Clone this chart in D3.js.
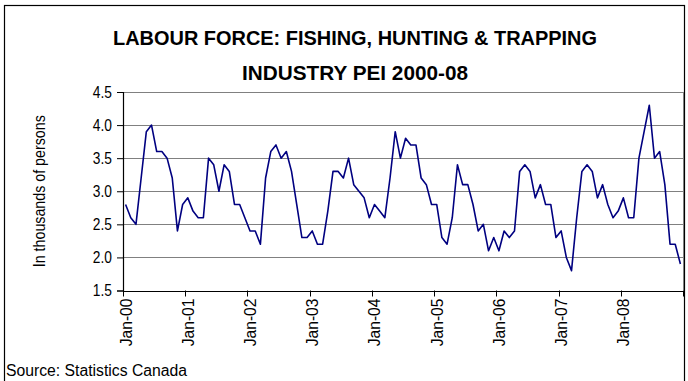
<!DOCTYPE html>
<html>
<head>
<meta charset="utf-8">
<script src="https://cdn.jsdelivr.net/npm/d3@7"></script>
<style>
  html, body { margin: 0; padding: 0; background: #fff; }
  svg { display: block; }
  text { font-family: "Liberation Sans", Arial, sans-serif; fill: #000; }
</style>
</head>
<body>
<svg id="chart" width="688" height="381"></svg>
<script>
// ---- data ----
const years = ["00", "01", "02", "03", "04", "05", "06", "07", "08"];
const months = ["Jan","Feb","Mar","Apr","May","Jun","Jul","Aug","Sep","Oct","Nov","Dec"];
const values2000 = [2.8, 2.6, 2.5, 3.2, 3.9, 4.0, 3.6, 3.6, 3.5, 3.2, 2.4, 2.8];
const values2001 = [2.9, 2.7, 2.6, 2.6, 3.5, 3.4, 3.0, 3.4, 3.3, 2.8, 2.8, 2.6];
const values2002 = [2.4, 2.4, 2.2, 3.2, 3.6, 3.7, 3.5, 3.6, 3.3, 2.8, 2.3, 2.3];
const values2003 = [2.4, 2.2, 2.2, 2.7, 3.3, 3.3, 3.2, 3.5, 3.1, 3.0, 2.9, 2.6];
const values2004 = [2.8, 2.7, 2.6, 3.2, 3.9, 3.5, 3.8, 3.7, 3.7, 3.2, 3.1, 2.8];
const values2005 = [2.8, 2.3, 2.2, 2.6, 3.4, 3.1, 3.1, 2.8, 2.4, 2.5, 2.1, 2.3];
const values2006 = [2.1, 2.4, 2.3, 2.4, 3.3, 3.4, 3.3, 2.9, 3.1, 2.8, 2.8, 2.3];
const values2007 = [2.4, 2.0, 1.8, 2.6, 3.3, 3.4, 3.3, 2.9, 3.1, 2.8, 2.6, 2.7];
const values2008 = [2.9, 2.6, 2.6, 3.5, 3.9, 4.3, 3.5, 3.6, 3.1, 2.2, 2.2, 1.9];
const yTicks = [1.5, 2.0, 2.5, 3.0, 3.5, 4.0, 4.5];
const titleLines = ["LABOUR FORCE: FISHING, HUNTING & TRAPPING", "INDUSTRY PEI 2000-08"];
const yAxisTitle = "In thousands of persons";
const sourceText = "Source: Statistics Canada";

const allValues = [].concat(values2000, values2001, values2002, values2003, values2004,
                            values2005, values2006, values2007, values2008);
const categories = [];
years.forEach(y => months.forEach(m => categories.push(m + "-" + y)));
const data = categories.map((c, i) => ({ cat: c, value: allValues[i] }));

// emulate a narrow typeface by squeezing glyphs horizontally
function narrow(sel, factor) {
  sel.each(function () {
    const len = this.getComputedTextLength();
    d3.select(this).attr("textLength", len * factor).attr("lengthAdjust", "spacingAndGlyphs");
  });
}
function fitTo(sel, width) {
  sel.attr("textLength", width).attr("lengthAdjust", "spacingAndGlyphs");
}

// ---- layout ----
const svg = d3.select("#chart");
const plot = { left: 123, right: 683, top: 92, bottom: 290.5 };

const x = d3.scaleBand().domain(categories).range([plot.left, plot.right]).paddingInner(0).paddingOuter(0);
const y = d3.scaleLinear().domain([1.5, 4.5]).range([plot.bottom, plot.top]);

// chart border
svg.append("rect")
  .attr("x", 4.5).attr("y", 5.5).attr("width", 680).attr("height", 400)
  .attr("fill", "none").attr("stroke", "#000").attr("stroke-width", 1.2);

// gridlines
svg.append("g").selectAll("line")
  .data(yTicks.filter(t => t > 1.5))
  .join("line")
  .attr("x1", plot.left).attr("x2", plot.right)
  .attr("y1", d => Math.round(y(d)) + 0.5).attr("y2", d => Math.round(y(d)) + 0.5)
  .attr("stroke", "#808080").attr("stroke-width", 1);

// right border of plot area
svg.append("line")
  .attr("x1", plot.right + 0.5).attr("x2", plot.right + 0.5)
  .attr("y1", y(4.5)).attr("y2", plot.bottom)
  .attr("stroke", "#808080").attr("stroke-width", 1);

// y axis
const yAxis = d3.axisLeft(y).tickValues(yTicks).tickFormat(d3.format(".1f")).tickSize(6).tickPadding(5);
const gy = svg.append("g").attr("transform", `translate(${plot.left},0)`).call(yAxis);
gy.select(".domain").attr("stroke", "#000").attr("stroke-width", 1.2);
gy.selectAll(".tick line").attr("stroke", "#000");
gy.selectAll(".tick text").attr("font-size", 16).attr("fill", "#000")
  .style("font-family", '"Liberation Sans", Arial, sans-serif')
  .call(narrow, 0.86);

// x axis: ticks at year boundaries, labels at January categories
const janCats = categories.filter((c, i) => i % 12 === 0);
const tickPos = janCats.map(c => x(c)).concat([plot.right]);
svg.append("line")
  .attr("x1", plot.left).attr("x2", plot.right)
  .attr("y1", Math.round(plot.bottom) + 0.5).attr("y2", Math.round(plot.bottom) + 0.5)
  .attr("stroke", "#000").attr("stroke-width", 1.2);
svg.append("g").selectAll("line")
  .data(tickPos)
  .join("line")
  .attr("x1", d => Math.round(d) + 0.5).attr("x2", d => Math.round(d) + 0.5)
  .attr("y1", plot.bottom).attr("y2", plot.bottom + 6)
  .attr("stroke", "#000");
svg.append("g").selectAll("text")
  .data(janCats)
  .join("text")
  .attr("transform", d => `translate(${x(d) + x.bandwidth() / 2 + 6},${plot.bottom + 8}) rotate(-90)`)
  .attr("text-anchor", "end")
  .attr("font-size", 17)
  .text(d => d)
  .call(narrow, 0.92);

// line
const line = d3.line()
  .x(d => x(d.cat) + x.bandwidth() / 2)
  .y(d => y(d.value));
svg.append("path")
  .datum(data)
  .attr("d", line)
  .attr("fill", "none")
  .attr("stroke", "#000080")
  .attr("stroke-width", 1.6)
  .attr("stroke-linejoin", "round");

// titles
const titleWidths = [484, 226];
svg.append("g").selectAll("text")
  .data(titleLines)
  .join("text")
  .attr("x", 355).attr("y", (d, i) => 45 + i * 35)
  .attr("text-anchor", "middle")
  .attr("font-size", 21).attr("font-weight", "bold")
  .attr("textLength", (d, i) => titleWidths[i])
  .attr("lengthAdjust", "spacingAndGlyphs")
  .text(d => d);

svg.append("text")
  .attr("transform", `translate(45,${(plot.top + plot.bottom) / 2}) rotate(-90)`)
  .attr("text-anchor", "middle")
  .attr("font-size", 16)
  .text(yAxisTitle)
  .call(fitTo, 152);

svg.append("text")
  .attr("x", 6).attr("y", 376)
  .attr("font-size", 16)
  .text(sourceText)
  .call(fitTo, 181);
</script>
</body>
</html>
